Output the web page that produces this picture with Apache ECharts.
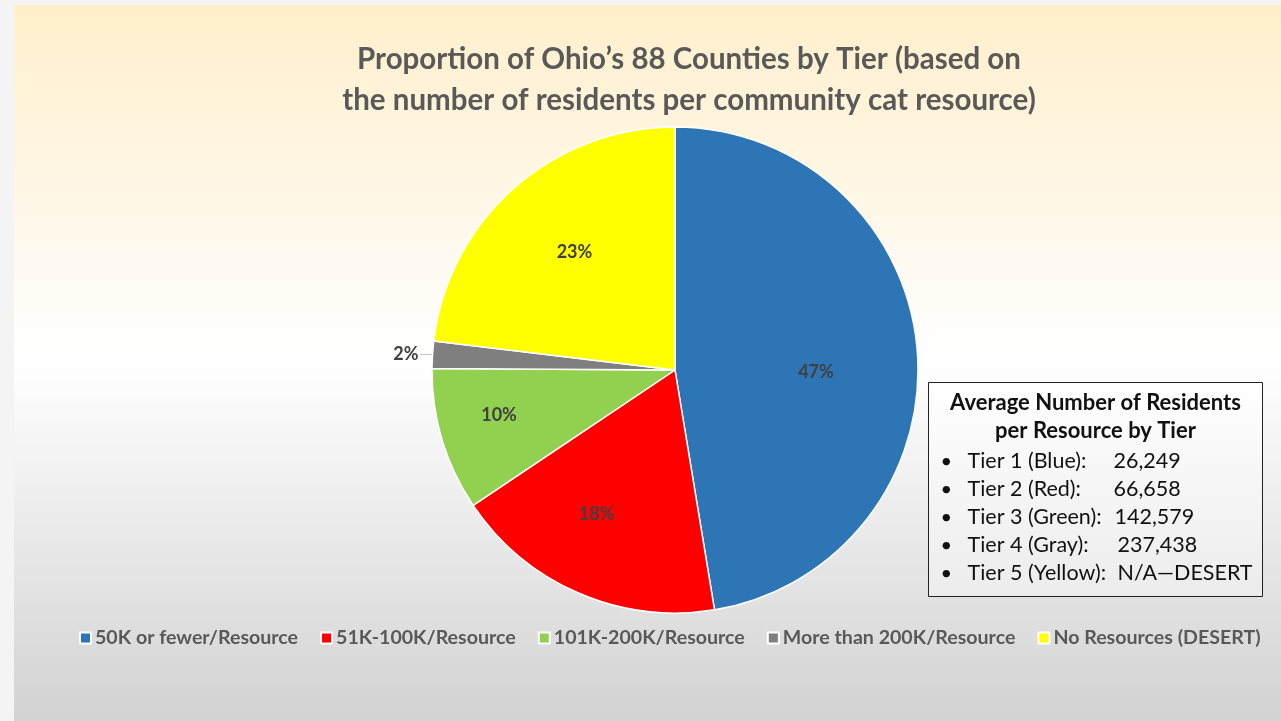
<!DOCTYPE html>
<html><head><meta charset="utf-8">
<script src="https://cdn.jsdelivr.net/npm/echarts@6/dist/echarts.min.js"></script>
<style>html,body{margin:0;padding:0;background:#f4f4f4;}#c{width:1281px;height:721px;}</style>
</head><body><div id="c"></div>
<script>
const categories = ['50K or fewer/Resource','51K-100K/Resource','101K-200K/Resource','More than 200K/Resource','No Resources (DESERT)'];
const shares = [47.4, 18.2, 9.5, 1.8, 23.1];
const colors = ['#2E75B6','#FF0000','#92D050','#7F7F7F','#FFFF00'];
const tierLabels = ['Tier 1 (Blue):','Tier 2 (Red):','Tier 3 (Green):','Tier 4 (Gray):','Tier 5 (Yellow):'];
const tierValues = ['26,249','66,658','142,579','237,438','N/A\u2014DESERT'];

const FONT = 'Lato, "Open Sans", sans-serif';
const chart = echarts.init(document.getElementById('c'), null, {renderer:'canvas'});

const data = categories.map((n,i)=>({name:n, value:shares[i], itemStyle:{color:colors[i]}}));
const valueX = [1113, 1113, 1114, 1117, 1117];
const labelShift = [[-13,15],[-17,2],[-28,1],[0,0],[2,-2]];

const boxChildren = [
  {type:'rect', shape:{x:0,y:0,width:334,height:214}, style:{fill:new echarts.graphic.LinearGradient(0,0,0,1,[{offset:0,color:'#ffffff'},{offset:1,color:'#ececec'}]), stroke:'#222', lineWidth:1}},
  {type:'text', style:{x:167,y:20,text:'Average Number of Residents',align:'center',verticalAlign:'middle',font:'bold 22px '+FONT,fill:'#111'}},
  {type:'text', style:{x:167,y:48,text:'per Resource by Tier',align:'center',verticalAlign:'middle',font:'bold 22px '+FONT,fill:'#111'}}
];
tierLabels.forEach((t,i)=>{
  const y = 79 + i*28;
  boxChildren.push({type:'text', style:{x:12,y:y,text:'\u2022',verticalAlign:'middle',font:'20px '+FONT,fill:'#111'}});
  boxChildren.push({type:'text', style:{x:39,y:y,text:t,verticalAlign:'middle',font:'21.5px '+FONT,fill:'#111'}});
  boxChildren.push({type:'text', style:{x:valueX[i]-928,y:y,text:tierValues[i],verticalAlign:'middle',font:'21.5px '+FONT,fill:'#111'}});
});

chart.setOption({
  animation:false,
  graphic:[
    {type:'rect', z:-10, shape:{x:14,y:5,width:1267,height:716}, style:{fill:new echarts.graphic.LinearGradient(0,0,0,1,[{offset:0,color:'#FFEFCB'},{offset:0.5,color:'#FFFFFF'},{offset:1,color:'#D2D2D2'}])}},
    {type:'group', left:928, top:382, z:10, children:boxChildren}
  ],
  title:{
    text:'Proportion of Ohio\u2019s 88 Counties by Tier (based on\nthe number of residents per community cat resource)',
    left:684, top:34, textAlign:'center',
    textStyle:{fontFamily:FONT, fontWeight:'bold', fontSize:29.5, color:'#595959', lineHeight:41}
  },
  legend:{
    data:categories, left:74, top:623, itemWidth:11, itemHeight:11, itemGap:22, icon:'rect',
    textStyle:{fontFamily:FONT, fontWeight:'bold', fontSize:19.6, color:'#595959', padding:[0,0,0,-1]}
  },
  series:[
    {
      type:'pie', center:[675,370], radius:[0,243], startAngle:90, clockwise:true,
      percentPrecision:0, silent:true,
      itemStyle:{borderColor:'#ffffff', borderWidth:1.5},
      label:{show:false},
      data:data.map((d,i)=> i===3 ? Object.assign({}, d, {
        label:{show:true, position:'outside', formatter:'{d}%', fontFamily:FONT, fontWeight:'bold', fontSize:18, color:'#404040', distanceToLabelLine:2},
        labelLine:{show:true, length:4, length2:8, lineStyle:{color:'#bfbfbf', width:1}}
      }) : d),
      labelLine:{show:false}
    },
    {
      type:'pie', center:[675,370], radius:[60,243], startAngle:90, clockwise:true,
      percentPrecision:0, silent:true, legendHoverLink:false,
      itemStyle:{color:'rgba(0,0,0,0)', borderWidth:0},
      label:{show:true, position:'inside', formatter:(p)=> p.dataIndex===3 ? '' : p.percent+'%', fontFamily:FONT, fontWeight:'bold', fontSize:18, color:'#404040'},
      labelLayout:(p)=>({dx:labelShift[p.dataIndex][0], dy:labelShift[p.dataIndex][1]}),
      labelLine:{show:false},
      data:categories.map((n,i)=>({name:n, value:shares[i]}))
    }
  ]
});
</script></body></html>
